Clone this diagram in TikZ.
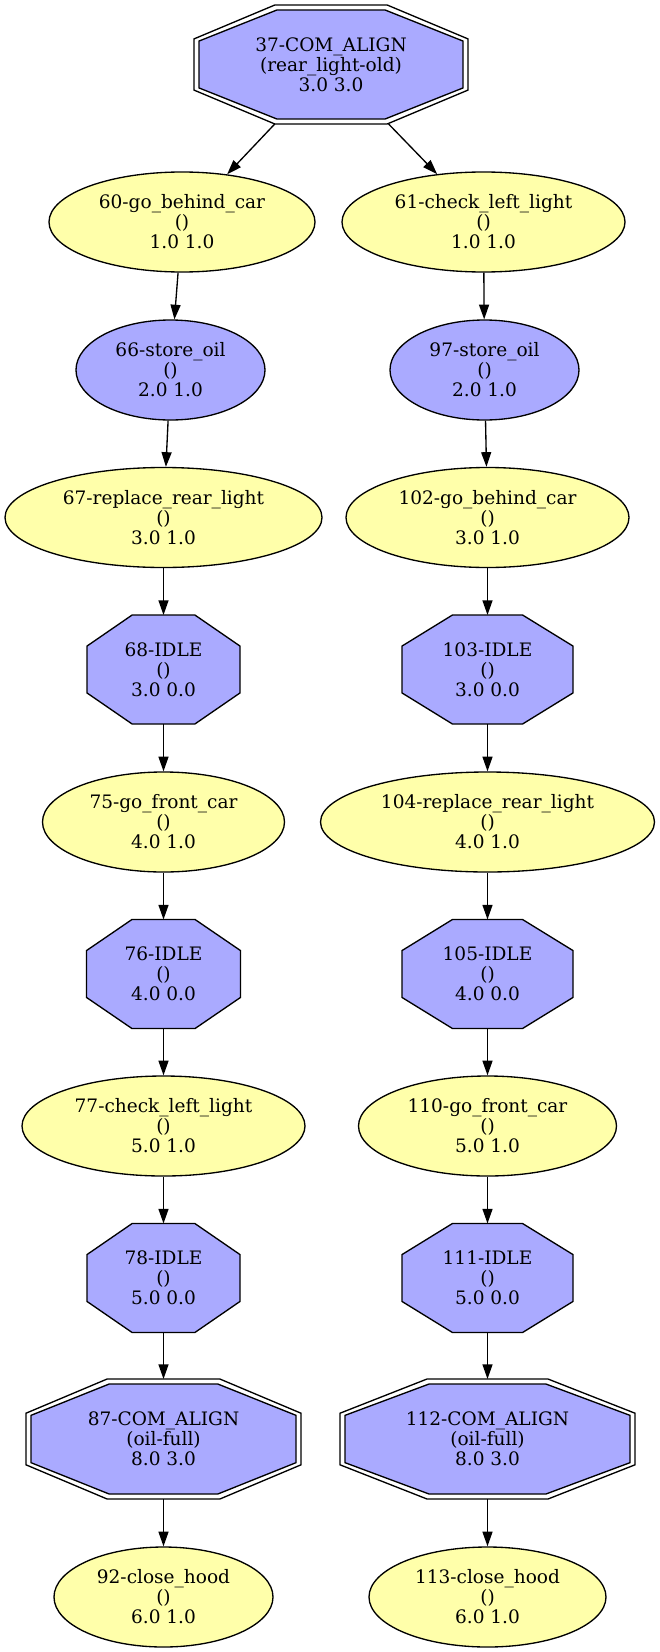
\documentclass[tikz,border=0pt]{standalone}
\usepackage{fontspec}
\setmainfont{DejaVu Serif}
\usetikzlibrary{arrows.meta,shapes.geometric}
\definecolor{nblue}{HTML}{AAAAFF}
\definecolor{nyellow}{HTML}{FFFFAA}
\newcommand\myoctcoords[4]{%
  \pgfmathsetmacro\oxa{#1-(#3)}\pgfmathsetmacro\oxb{#1-0.41*(#3)}%
  \pgfmathsetmacro\oxc{#1+0.41*(#3)}\pgfmathsetmacro\oxd{#1+(#3)}%
  \pgfmathsetmacro\oya{#2-(#4)}\pgfmathsetmacro\oyb{#2-0.43*(#4)}%
  \pgfmathsetmacro\oyc{#2+0.43*(#4)}\pgfmathsetmacro\oyd{#2+(#4)}}
\newcommand\octnode[6]{%
  \myoctcoords{#2}{#3}{#4}{#5}%
  \filldraw[octshape] (\oxb,\oya) -- (\oxc,\oya) -- (\oxd,\oyb) -- (\oxd,\oyc) -- (\oxc,\oyd) -- (\oxb,\oyd) -- (\oxa,\oyc) -- (\oxa,\oyb) -- cycle;
  \node[octtext, minimum width={2*(#4)*0.75pt}, minimum height={2*(#5)*0.75pt}] (#1) at (#2,#3) {#6};}
\newcommand\doctnode[6]{%
  \myoctcoords{#2}{#3}{#4}{#5}%
  \draw[octline] (\oxb,\oya) -- (\oxc,\oya) -- (\oxd,\oyb) -- (\oxd,\oyc) -- (\oxc,\oyd) -- (\oxb,\oyd) -- (\oxa,\oyc) -- (\oxa,\oyb) -- cycle;
  \myoctcoords{#2}{#3}{#4-5}{#5-5}%
  \filldraw[octshape] (\oxb,\oya) -- (\oxc,\oya) -- (\oxd,\oyb) -- (\oxd,\oyc) -- (\oxc,\oyd) -- (\oxb,\oyd) -- (\oxa,\oyc) -- (\oxa,\oyb) -- cycle;
  \node[octtext, minimum width={2*(#4)*0.75pt}, minimum height={2*(#5)*0.75pt}] (#1) at (#2,#3) {#6};}
\tikzset{
  nodefont/.style={font=\fontsize{13.9pt}{15pt}\selectfont},
  yell/.style={ellipse, draw, line width=1pt, fill=nyellow, inner sep=0pt,
    minimum height=75pt, minimum width={#1*0.75pt}, align=center, nodefont},
  bell/.style={yell=#1, fill=nblue},
  octshape/.style={draw, line width=1pt, fill=nblue},
  octline/.style={draw, line width=1pt},
  octtext/.style={rectangle, inner sep=0pt, outer sep=0pt, align=center, nodefont},
  conn/.style={-{Triangle[length=11pt,width=7.5pt]}, line width=1pt}
}
\begin{document}
\begin{tikzpicture}[x=0.75pt,y=-0.75pt]
\useasboundingbox (0,0) rectangle (660,1652);
\doctnode{n37}{331}{64.5}{137}{59.5}{37-COM\_ALIGN\\(rear\_light-old)\\3.0 3.0}
\node[yell=266] (n60) at (182,222) {60-go\_behind\_car\\()\\1.0 1.0};
\node[yell=283] (n61) at (483.5,222) {61-check\_left\_light\\()\\1.0 1.0};
\node[bell=189] (n66) at (170.5,370) {66-store\_oil\\()\\2.0 1.0};
\node[bell=189] (n97) at (484.5,370) {97-store\_oil\\()\\2.0 1.0};
\node[yell=317] (n67) at (163.5,517.5) {67-replace\_rear\_light\\()\\3.0 1.0};
\node[yell=283] (n102) at (487.5,517.5) {102-go\_behind\_car\\()\\3.0 1.0};
\octnode{n68}{163.5}{669.5}{76.5}{54.5}{68-IDLE\\()\\3.0 0.0}
\octnode{n103}{487.5}{669.5}{85.5}{54.5}{103-IDLE\\()\\3.0 0.0}
\node[yell=242] (n75) at (163.5,822) {75-go\_front\_car\\()\\4.0 1.0};
\node[yell=334] (n104) at (487.5,822) {104-replace\_rear\_light\\()\\4.0 1.0};
\octnode{n76}{163.5}{974}{77}{54.5}{76-IDLE\\()\\4.0 0.0}
\octnode{n105}{487.5}{974}{85.5}{54.5}{105-IDLE\\()\\4.0 0.0}
\node[yell=283] (n77) at (163.5,1126) {77-check\_left\_light\\()\\5.0 1.0};
\node[yell=258] (n110) at (487.5,1126) {110-go\_front\_car\\()\\5.0 1.0};
\octnode{n78}{163.5}{1278}{76.5}{54.5}{78-IDLE\\()\\5.0 0.0}
\octnode{n111}{487.5}{1278}{85.5}{54.5}{111-IDLE\\()\\5.0 0.0}
\doctnode{n87}{163.5}{1439}{137.5}{60}{87-COM\_ALIGN\\(oil-full)\\8.0 3.0}
\doctnode{n112}{487.5}{1439}{147.5}{60}{112-COM\_ALIGN\\(oil-full)\\8.0 3.0}
\node[yell=219] (n92) at (163.5,1597) {92-close\_hood\\()\\6.0 1.0};
\node[yell=237] (n113) at (487.5,1597) {113-close\_hood\\()\\6.0 1.0};
\draw[conn] (n37) -- (n60);
\draw[conn] (n37) -- (n61);
\draw[conn] (n60) -- (n66);
\draw[conn] (n66) -- (n67);
\draw[conn] (n67) -- (n68);
\draw[conn] (n68) -- (n75);
\draw[conn] (n75) -- (n76);
\draw[conn] (n76) -- (n77);
\draw[conn] (n77) -- (n78);
\draw[conn] (n78) -- (n87);
\draw[conn] (n87) -- (n92);
\draw[conn] (n61) -- (n97);
\draw[conn] (n97) -- (n102);
\draw[conn] (n102) -- (n103);
\draw[conn] (n103) -- (n104);
\draw[conn] (n104) -- (n105);
\draw[conn] (n105) -- (n110);
\draw[conn] (n110) -- (n111);
\draw[conn] (n111) -- (n112);
\draw[conn] (n112) -- (n113);
\end{tikzpicture}
\end{document}
